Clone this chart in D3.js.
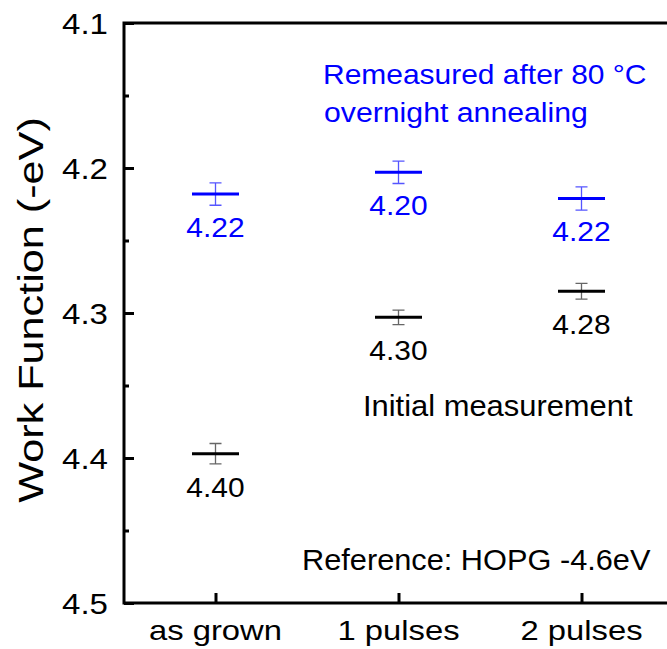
<!DOCTYPE html>
<html><head><meta charset="utf-8">
<script src="https://cdn.jsdelivr.net/npm/d3@7"></script>
<style>body{margin:0;background:#fff}svg{display:block;font-family:Arial,"Liberation Sans",sans-serif}</style>
</head><body><svg id="c" width="667" height="649"></svg>
<script>
const categories = ["as grown", "1 pulses", "2 pulses"];
const annealed = [4.218, 4.203, 4.221];
const annealedErr = [0.0077, 0.0077, 0.008];
const annealedLabels = ["4.22", "4.20", "4.22"];
const initial = [4.397, 4.303, 4.285];
const initialErr = [0.007, 0.005, 0.0054];
const initialLabels = ["4.40", "4.30", "4.28"];
const yMajor = [4.1, 4.2, 4.3, 4.4, 4.5];
const yMinor = [4.15, 4.25, 4.35, 4.45];

const svg = d3.select("#c");
const L = 124, T = 23, B = 603;
const x = d3.scaleLinear().domain([-0.5, 2.5]).range([124, 673]);
const y = d3.scaleLinear().domain([4.1, 4.5]).range([T, B]);

function txt(g, tx, ty, s, size, sx, anchor, fill) {
  return g.append("text").attr("transform", `translate(${tx},${ty}) scale(${sx},1)`)
    .attr("text-anchor", anchor).attr("font-size", size).attr("fill", fill || "#000").text(s);
}

// frame
svg.append("path").attr("d", `M667,${T}H${L}V${B}H667`)
  .attr("stroke", "#000").attr("stroke-width", 3).attr("fill", "none").attr("stroke-linecap", "square");

// y axis ticks inward
const yAx = svg.append("g").attr("transform", `translate(${L},0)`)
  .call(d3.axisRight(y).tickValues(yMajor).tickSize(10).tickFormat(""));
yAx.select(".domain").remove();
yAx.selectAll("line").attr("stroke-width", 3);
const yMin = svg.append("g").attr("transform", `translate(${L},0)`)
  .call(d3.axisRight(y).tickValues(yMinor).tickSize(5).tickFormat(""));
yMin.select(".domain").remove();
yMin.selectAll("line").attr("stroke-width", 3);
const yl = svg.append("g");
yMajor.forEach(d => txt(yl, 108, y(d) + 10.5, d.toFixed(1), 29, 1.14, "end"));

// x axis ticks inward
const xAx = svg.append("g").attr("transform", `translate(0,${B})`)
  .call(d3.axisTop(x).tickValues([0, 1, 2]).tickSize(10).tickFormat(""));
xAx.select(".domain").remove();
xAx.selectAll("line").attr("stroke-width", 3);
const xl = svg.append("g");
categories.forEach((d, i) => txt(xl, x(i), 640, d, 28, 1.17, "middle"));

// y label
svg.append("text").attr("transform", `translate(43,310) rotate(-90) scale(1.2,1)`)
  .attr("text-anchor", "middle").attr("font-size", 36).text("Work Function (-eV)");

function series(vals, errs, labels, color, capColor) {
  const g = svg.append("g");
  vals.forEach((v, i) => {
    const cx = x(i);
    g.append("path")
      .attr("d", `M${cx},${y(v - errs[i])}V${y(v + errs[i])}M${cx - 6},${y(v - errs[i])}h12M${cx - 6},${y(v + errs[i])}h12`)
      .attr("stroke", capColor).attr("stroke-width", 1.3).attr("fill", "none");
    g.append("line").attr("x1", cx - 23.5).attr("x2", cx + 23.5)
      .attr("y1", y(v)).attr("y2", y(v)).attr("stroke", color).attr("stroke-width", 3);
    txt(g, cx, y(v) + 43, labels[i], 28, 1.07, "middle", color);
  });
}
series(annealed, annealedErr, annealedLabels, "#0000ff", "#5555ff");
series(initial, initialErr, initialLabels, "#000", "#666");

// annotations
const an = svg.append("g");
txt(an, 323, 84, "Remeasured after 80 °C", 27, 1.11, "start", "#0000ff");
txt(an, 324, 122, "overnight annealing", 27, 1.12, "start", "#0000ff");
txt(an, 363, 416, "Initial measurement", 30, 1.03, "start");
txt(an, 302, 570, "Reference: HOPG -4.6eV", 29, 1.06, "start");
</script></body></html>
